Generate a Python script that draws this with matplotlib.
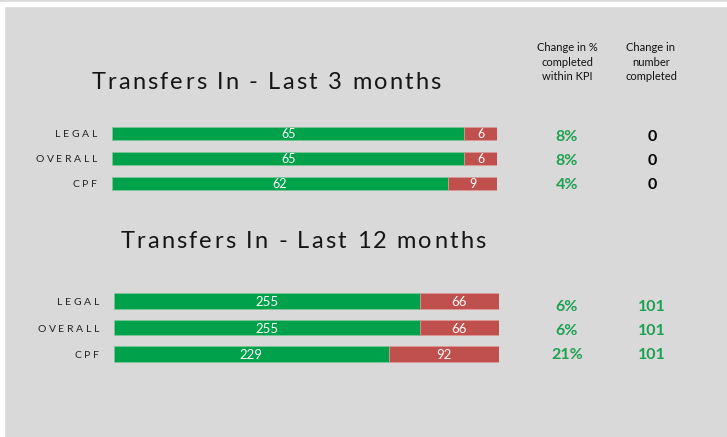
import matplotlib.pyplot as plt
from matplotlib.textpath import TextToPath
from matplotlib.font_manager import FontProperties

plt.rcParams['font.family'] = ['Lato', 'DejaVu Sans']

W, H = 727, 437
bg = '#D9D9D9'
green = '#00A14B'
red = '#C0504D'
txt_green = '#1FA04F'

categories = ['LEGAL', 'OVERALL', 'CPF']

# last 3 months
done_3m = [65, 65, 62]
late_3m = [6, 6, 9]
pct_3m = ['8%', '8%', '4%']
num_3m = ['0', '0', '0']

# last 12 months
done_12m = [255, 255, 229]
late_12m = [66, 66, 92]
pct_12m = ['6%', '6%', '21%']
num_12m = ['101', '101', '101']

fig = plt.figure(figsize=(W / 100, H / 100), dpi=100)
fig.patch.set_facecolor(bg)

# white frame strips at top and left
fig.patches.append(plt.Rectangle((0, 1 - 6 / H), 1, 3.5 / H, transform=fig.transFigure,
                                 color='white', zorder=0))
fig.patches.append(plt.Rectangle((0, 0), 4 / W, 1 - 2.5 / H, transform=fig.transFigure,
                                 color='white', zorder=0))

t2p = TextToPath()


def px(x, y):
    return x / W, 1 - y / H


def spaced_text(x, y_base, s, size, gap, align='center', weight='normal', color='#111111'):
    # draw text char by char with extra letter spacing (pixels)
    fp = FontProperties(family='Lato', size=size, weight=weight)
    widths = [t2p.get_text_width_height_descent(c, fp, ismath=False)[0] * 100 / 72 for c in s]
    total = sum(widths) + gap * (len(s) - 1)
    if align == 'center':
        cx = x - total / 2
    elif align == 'right':
        cx = x - total
    else:
        cx = x
    for c, w in zip(s, widths):
        fig.text(*px(cx, y_base), c, fontproperties=fp, color=color, ha='left', va='baseline')
        cx += w + gap


def bar_block(x0, x1, y_top, y_bot, bar_h, done, late, fs):
    l, b = px(x0, y_bot)
    ax = fig.add_axes([l, b, (x1 - x0) / W, (y_bot - y_top) / H])
    ax.set_facecolor('none')
    ys = range(len(categories))
    ax.barh(ys, done, height=bar_h, color=green, edgecolor='#7fc89a', linewidth=0.5)
    ax.barh(ys, late, left=done, height=bar_h, color=red, edgecolor='#e09a98', linewidth=0.5)
    for i in ys:
        ax.text(done[i] / 2, i + 0.05, str(done[i]), color='white', ha='center', va='center', fontsize=fs)
        ax.text(done[i] + late[i] / 2, i + 0.05, str(late[i]), color='white', ha='center', va='center', fontsize=fs)
    ax.set_xlim(0, done[0] + late[0])
    ax.set_ylim(len(categories) - 0.5, -0.5)
    ax.axis('off')
    return ax


bar_block(112, 497, 120.5, 195.5, 0.52, done_3m, late_3m, 9)
bar_block(114, 499, 287.75, 367.25, 0.57, done_12m, late_12m, 9.5)

# titles
spaced_text(266, 89, 'Transfers In - Last 3 months', 17, 2.2, color='#151515')
spaced_text(303, 248, 'Transfers In - Last 12 months', 17, 2.2, color='#151515')

# row labels
for ys, lx in (([133, 158, 183], 97), ([301, 328, 354], 99)):
    for cat, y in zip(categories, ys):
        spaced_text(lx, y + 4, cat, 7.5, 2.6, align='right', color='#222222')

# column headers
fig.text(*px(567, 62), 'Change in %\ncompleted\nwithin KPI', ha='center', va='center',
         fontsize=8, color='#111111', linespacing=1.4)
fig.text(*px(651, 62), 'Change in\nnumber\ncompleted', ha='center', va='center',
         fontsize=8, color='#111111', linespacing=1.4)

# change columns
for y, p, n in zip([137, 161, 185], pct_3m, num_3m):
    fig.text(*px(567, y), p, ha='center', va='center', fontsize=11.5, fontweight='bold', color=txt_green)
    fig.text(*px(652, y), n, ha='center', va='center', fontsize=11.5, fontweight='bold', color='black')
for y, p, n in zip([307, 331, 355], pct_12m, num_12m):
    fig.text(*px(567, y), p, ha='center', va='center', fontsize=11.5, fontweight='bold', color=txt_green)
    fig.text(*px(652, y), n, ha='center', va='center', fontsize=11.5, fontweight='bold', color=txt_green)

fig.savefig('out.png', dpi=100, facecolor=fig.get_facecolor())
